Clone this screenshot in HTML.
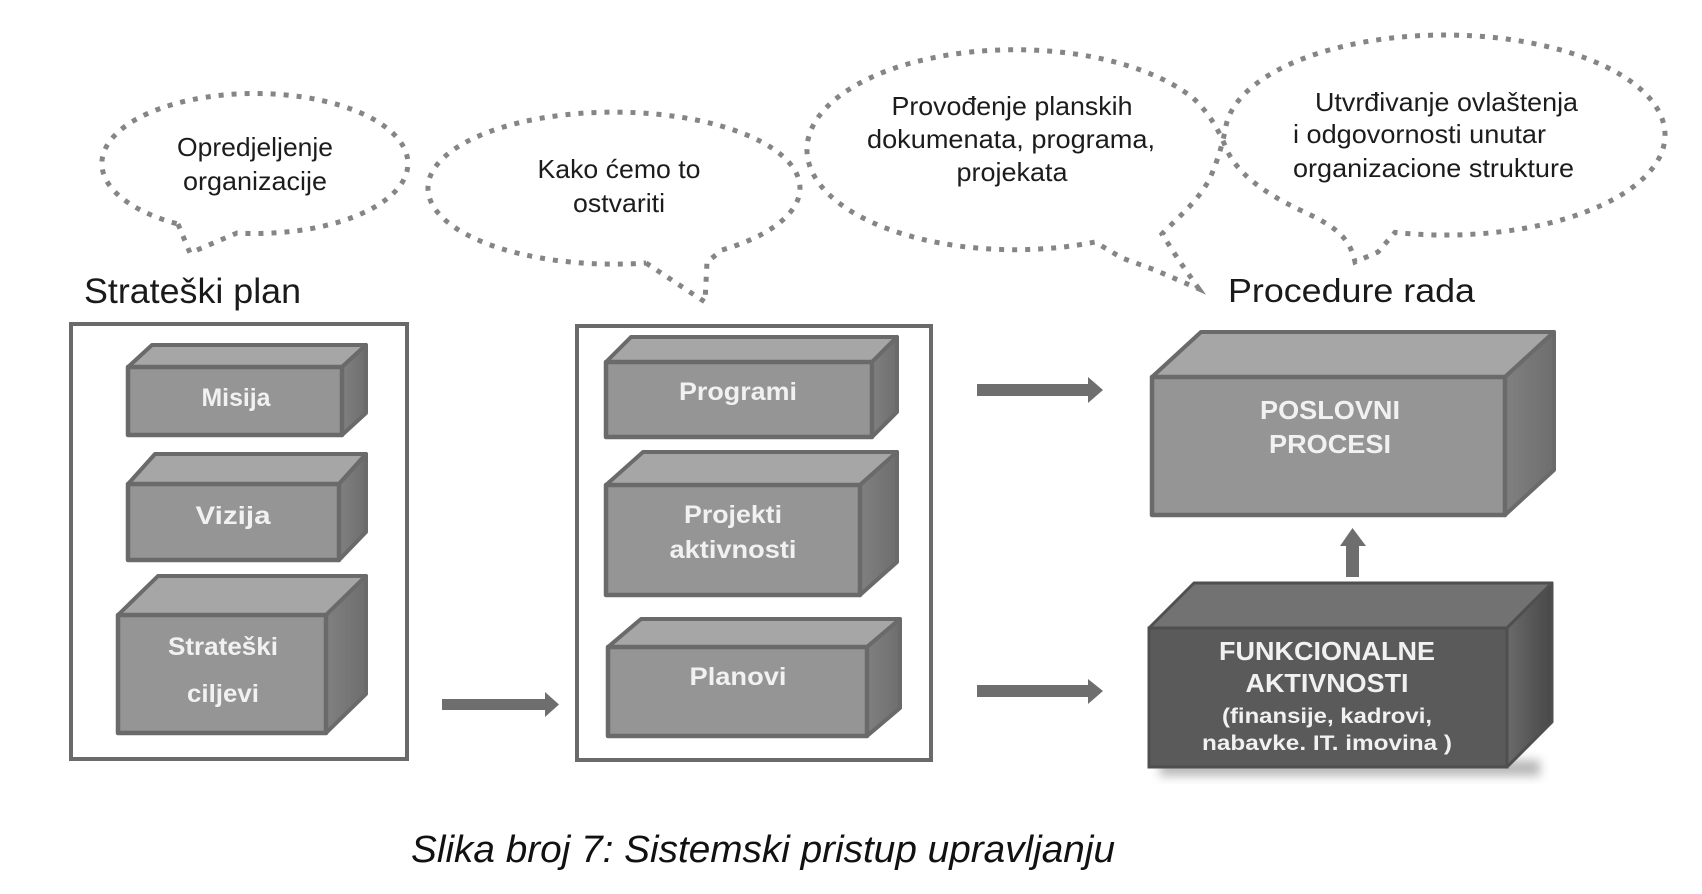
<!DOCTYPE html>
<html>
<head>
<meta charset="utf-8">
<style>
  html,body{margin:0;padding:0;background:#ffffff;}
  svg{display:block;}
  .bt{font-family:"Liberation Sans",Arial,sans-serif;font-size:26px;fill:#1c1c1c;}
  .bx{font-family:"Liberation Sans",Arial,sans-serif;font-weight:bold;fill:#f1f1f1;text-anchor:middle;}
  .dot{fill:none;stroke:#858585;stroke-width:5;stroke-dasharray:5 8;}
  .fr{fill:#959595;stroke:#6a6a6a;stroke-width:4.5;stroke-linejoin:round;}
  .tp{fill:#a6a6a6;stroke:#6a6a6a;stroke-width:4;stroke-linejoin:round;}
  .rt{fill:url(#sideL);stroke:#6a6a6a;stroke-width:4;stroke-linejoin:round;}
  .arr{fill:#6e6e6e;}
</style>
</head>
<body>
<svg width="1702" height="894" viewBox="0 0 1702 894" xmlns="http://www.w3.org/2000/svg">
  <defs>
    <linearGradient id="sideL" x1="0" y1="0" x2="1" y2="0">
      <stop offset="0" stop-color="#808080"/>
      <stop offset="1" stop-color="#6e6e6e"/>
    </linearGradient>
    <linearGradient id="sideD" x1="0" y1="0" x2="1" y2="0">
      <stop offset="0" stop-color="#6a6a6a"/>
      <stop offset="1" stop-color="#484848"/>
    </linearGradient>
    <filter id="blur" x="-20%" y="-50%" width="140%" height="200%">
      <feGaussianBlur stdDeviation="5"/>
    </filter>
  </defs>

  <rect width="1702" height="894" fill="#ffffff"/>

  <!-- Speech bubbles (dotted) -->
  <path class="dot" d="M178,224 L190,253 L237,233 A153,70 0 1 0 178,224"/>
  <path class="dot" d="M646,263 L705,302 L707,262 L722,250 A186,76 0 1 0 646,263"/>
  <path class="dot" d="M1199,289 L1180,262 L1162,234 C1175,220 1198,202 1210,178 C1218,160 1222,145 1225.3,130 A220,100 0 1 1 1395,232.4 L1378,252 L1355,262 C1350,240 1340,228 1300,210 C1262,192 1236,172 1226,148 C1218,128 1208,112 1193,98 A208,100 0 1 0 1095,242 L1122,258 L1155,270 Z"/>

  <!-- Bubble texts -->
  <text class="bt" x="255" y="156" text-anchor="middle" textLength="156" lengthAdjust="spacingAndGlyphs">Opredjeljenje</text>
  <text class="bt" x="255" y="190" text-anchor="middle" textLength="144" lengthAdjust="spacingAndGlyphs">organizacije</text>

  <text class="bt" x="619" y="178" text-anchor="middle" textLength="163" lengthAdjust="spacingAndGlyphs">Kako ćemo to</text>
  <text class="bt" x="619" y="212" text-anchor="middle" textLength="92" lengthAdjust="spacingAndGlyphs">ostvariti</text>

  <text class="bt" x="1012" y="115" text-anchor="middle" textLength="241" lengthAdjust="spacingAndGlyphs">Provođenje planskih</text>
  <text class="bt" x="1011" y="148" text-anchor="middle" textLength="288" lengthAdjust="spacingAndGlyphs">dokumenata, programa,</text>
  <text class="bt" x="1012" y="181" text-anchor="middle" textLength="111" lengthAdjust="spacingAndGlyphs">projekata</text>

  <text class="bt" x="1315" y="111" textLength="263" lengthAdjust="spacingAndGlyphs">Utvrđivanje ovlaštenja</text>
  <text class="bt" x="1293" y="143" textLength="253" lengthAdjust="spacingAndGlyphs">i odgovornosti unutar</text>
  <text class="bt" x="1293" y="177" textLength="281" lengthAdjust="spacingAndGlyphs">organizacione strukture</text>

  <!-- Headings -->
  <text x="84" y="303" font-family="Liberation Sans, Arial, sans-serif" font-size="35" fill="#1a1a1a" textLength="217" lengthAdjust="spacingAndGlyphs">Strateški plan</text>
  <text x="1228" y="302" font-family="Liberation Sans, Arial, sans-serif" font-size="33" fill="#1a1a1a" textLength="247" lengthAdjust="spacingAndGlyphs">Procedure rada</text>

  <!-- Container rectangles -->
  <rect x="71" y="324" width="336" height="435" fill="#ffffff" stroke="#6a6a6a" stroke-width="4"/>
  <rect x="577" y="326" width="354" height="434" fill="#ffffff" stroke="#6a6a6a" stroke-width="4"/>

  <!-- Misija -->
  <polygon class="tp" points="128,367 152,345 366,345 342,367"/>
  <polygon class="rt" points="342,367 366,345 366,413 342,435"/>
  <rect class="fr" x="128" y="367" width="214" height="68"/>
  <text class="bx" x="236" y="406" font-size="25" textLength="69" lengthAdjust="spacingAndGlyphs">Misija</text>

  <!-- Vizija -->
  <polygon class="tp" points="128,484 155,454 366,454 339,484"/>
  <polygon class="rt" points="339,484 366,454 366,532 339,560"/>
  <rect class="fr" x="128" y="484" width="211" height="76"/>
  <text class="bx" x="233" y="524" font-size="25" textLength="75" lengthAdjust="spacingAndGlyphs">Vizija</text>

  <!-- Strateški ciljevi -->
  <polygon class="tp" points="118,615 158,576 366,576 326,615"/>
  <polygon class="rt" points="326,615 366,576 366,694 326,733"/>
  <rect class="fr" x="118" y="615" width="208" height="118"/>
  <text class="bx" x="223" y="655" font-size="25" textLength="110" lengthAdjust="spacingAndGlyphs">Strateški</text>
  <text class="bx" x="223" y="702" font-size="25" textLength="72" lengthAdjust="spacingAndGlyphs">ciljevi</text>

  <!-- Programi -->
  <polygon class="tp" points="606,362 631,337 897,337 872,362"/>
  <polygon class="rt" points="872,362 897,337 897,412 872,437"/>
  <rect class="fr" x="606" y="362" width="266" height="75"/>
  <text class="bx" x="738" y="400" font-size="25" textLength="118" lengthAdjust="spacingAndGlyphs">Programi</text>

  <!-- Projekti aktivnosti -->
  <polygon class="tp" points="606,485 643,452 897,452 860,485"/>
  <polygon class="rt" points="860,485 897,452 897,562 860,595"/>
  <rect class="fr" x="606" y="485" width="254" height="110"/>
  <text class="bx" x="733" y="523" font-size="25" textLength="98" lengthAdjust="spacingAndGlyphs">Projekti</text>
  <text class="bx" x="733" y="558" font-size="25" textLength="127" lengthAdjust="spacingAndGlyphs">aktivnosti</text>

  <!-- Planovi -->
  <polygon class="tp" points="608,647 641,619 900,619 867,647"/>
  <polygon class="rt" points="867,647 900,619 900,708 867,736"/>
  <rect class="fr" x="608" y="647" width="259" height="89"/>
  <text class="bx" x="738" y="685" font-size="25" textLength="97" lengthAdjust="spacingAndGlyphs">Planovi</text>

  <!-- POSLOVNI PROCESI -->
  <polygon class="tp" points="1152,377 1201,332 1554,332 1505,377"/>
  <polygon class="rt" points="1505,377 1554,332 1554,470 1505,515"/>
  <rect class="fr" x="1152" y="377" width="353" height="138"/>
  <text class="bx" x="1330" y="419" font-size="26" textLength="140" lengthAdjust="spacingAndGlyphs">POSLOVNI</text>
  <text class="bx" x="1330" y="453" font-size="26" textLength="122" lengthAdjust="spacingAndGlyphs">PROCESI</text>

  <!-- FUNKCIONALNE AKTIVNOSTI -->
  <rect x="1160" y="760" width="380" height="16" fill="#9a9a9a" filter="url(#blur)" opacity="0.7"/>
  <polygon points="1149,628 1194,583 1552,583 1507,628" fill="#727272" stroke="#4f4f4f" stroke-width="3" stroke-linejoin="round"/>
  <polygon points="1507,628 1552,583 1552,722 1507,767" fill="url(#sideD)" stroke="#4f4f4f" stroke-width="3" stroke-linejoin="round"/>
  <rect x="1149" y="628" width="358" height="139" fill="#5a5a5a" stroke="#4f4f4f" stroke-width="3"/>
  <text class="bx" x="1327" y="660" font-size="26" textLength="216" lengthAdjust="spacingAndGlyphs">FUNKCIONALNE</text>
  <text class="bx" x="1327" y="692" font-size="26" textLength="163" lengthAdjust="spacingAndGlyphs">AKTIVNOSTI</text>
  <text class="bx" x="1327" y="723" font-size="21" textLength="210" lengthAdjust="spacingAndGlyphs">(finansije, kadrovi,</text>
  <text class="bx" x="1327" y="750" font-size="21" textLength="250" lengthAdjust="spacingAndGlyphs">nabavke. IT. imovina )</text>

  <!-- Arrows -->
  <rect class="arr" x="442" y="699" width="106" height="11"/>
  <polygon class="arr" points="545,692 559,704.5 545,717"/>

  <rect class="arr" x="977" y="384" width="113" height="12"/>
  <polygon class="arr" points="1088,377 1103,390 1088,403"/>

  <rect class="arr" x="977" y="685" width="113" height="12"/>
  <polygon class="arr" points="1088,679 1103,691 1088,704"/>

  <rect class="arr" x="1346" y="543" width="13" height="34"/>
  <polygon class="arr" points="1340,546 1352.5,528 1366,546"/>

  <!-- Caption -->
  <text x="411" y="862" font-family="Liberation Sans, Arial, sans-serif" font-size="38" font-style="italic" fill="#111111" textLength="704" lengthAdjust="spacingAndGlyphs">Slika broj 7: Sistemski pristup upravljanju</text>
</svg>
</body>
</html>
